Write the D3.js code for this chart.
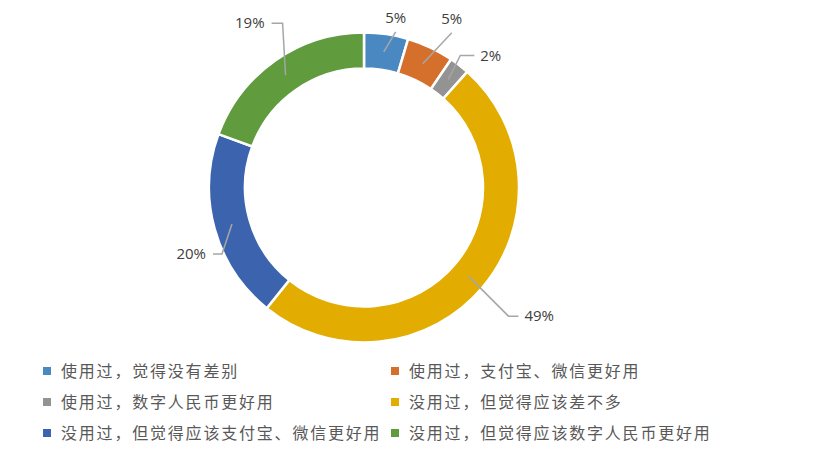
<!DOCTYPE html>
<html>
<head>
<meta charset="utf-8">
<script src="https://cdn.jsdelivr.net/npm/d3@7"></script>
<style>
  html, body { margin: 0; padding: 0; background: #fff; }
  svg { display: block; }
</style>
</head>
<body>
<div id="chart"></div>
<script>
// 데이터
const categories = [
  '使用过，觉得没有差别',
  '使用过，支付宝、微信更好用',
  '使用过，数字人民币更好用',
  '没用过，但觉得应该差不多',
  '没用过，但觉得应该支付宝、微信更好用',
  '没用过，但觉得应该数字人民币更好用'
];
const shares = [4.6, 4.9, 2.1, 49.2, 19.8, 19.4];
const valueLabels = ['5%', '5%', '2%', '49%', '20%', '19%'];
const colors = ['#4a88c1', '#d5702c', '#939393', '#e2ac00', '#3c64ae', '#609b3e'];

// 라벨 배치 (centroid 기준 꺾임점, 수평 꼬리 길이)
const labelLayout = [
  { dx: 12, dy: -20, tail: 0 },
  { dx: 29, dy: -31, tail: 0 },
  { dx: 12, dy: -24, tail: 14 },
  { dx: 40, dy: 40, tail: 10 },
  { dx: -10, dy: 30, tail: -9 },
  { dx: -3, dy: -52, tail: -11 }
];

const width = 819, height = 456;
const cx = 364, cy = 187.5;
const outerR = 155, innerR = 119;

const svg = d3.select('#chart').append('svg')
  .attr('width', width)
  .attr('height', height);

const g = svg.append('g').attr('transform', `translate(${cx},${cy})`);

const pie = d3.pie().sort(null).value(d => d);
const arcs = pie(shares);

const arc = d3.arc().innerRadius(innerR).outerRadius(outerR);

g.selectAll('path.slice')
  .data(arcs)
  .enter()
  .append('path')
  .attr('class', 'slice')
  .attr('d', arc)
  .style('fill', (d, i) => colors[i])
  .style('stroke', '#fff')
  .style('stroke-width', '2.5px');

// 지시선 + 라벨
arcs.forEach((d, i) => {
  const [x0, y0] = arc.centroid(d);
  const L = labelLayout[i];
  const x1 = x0 + L.dx, y1 = y0 + L.dy;
  const x2 = x1 + L.tail;
  const pts = [[x0, y0], [x1, y1]];
  if (L.tail !== 0) pts.push([x2, y1]);

  g.append('path')
    .attr('d', d3.line()(pts))
    .style('fill', 'none')
    .style('stroke', '#a6a6a6')
    .style('stroke-width', '1.5px');

  const t = g.append('text')
    .text(valueLabels[i])
    .style('font-family', '"Open Sans", "DejaVu Sans", sans-serif')
    .style('font-size', '15px')
    .style('fill', '#404040');

  if (L.tail === 0) {
    t.attr('x', x1).attr('y', y1 - 9).attr('text-anchor', 'middle');
  } else if (L.tail > 0) {
    t.attr('x', x2 + 6).attr('y', y1 + 5).attr('text-anchor', 'start');
  } else {
    t.attr('x', x2 - 7).attr('y', y1 + 5).attr('text-anchor', 'end');
  }
});

// 범례
const legend = svg.append('g').attr('class', 'legend');
const colX = [43, 391];
const rowY = [371, 402, 433];

categories.forEach((name, i) => {
  const x = colX[i % 2];
  const y = rowY[Math.floor(i / 2)];
  legend.append('rect')
    .attr('x', x)
    .attr('y', y - 4)
    .attr('width', 8)
    .attr('height', 8)
    .style('fill', colors[i]);
  legend.append('text')
    .attr('x', x + 18)
    .attr('y', y + 6)
    .text(name)
    .style('font-family', '"Noto Sans CJK SC", sans-serif')
    .style('font-size', '16px')
    .style('letter-spacing', '1.8px')
    .style('fill', '#595959');
});
</script>
</body>
</html>
